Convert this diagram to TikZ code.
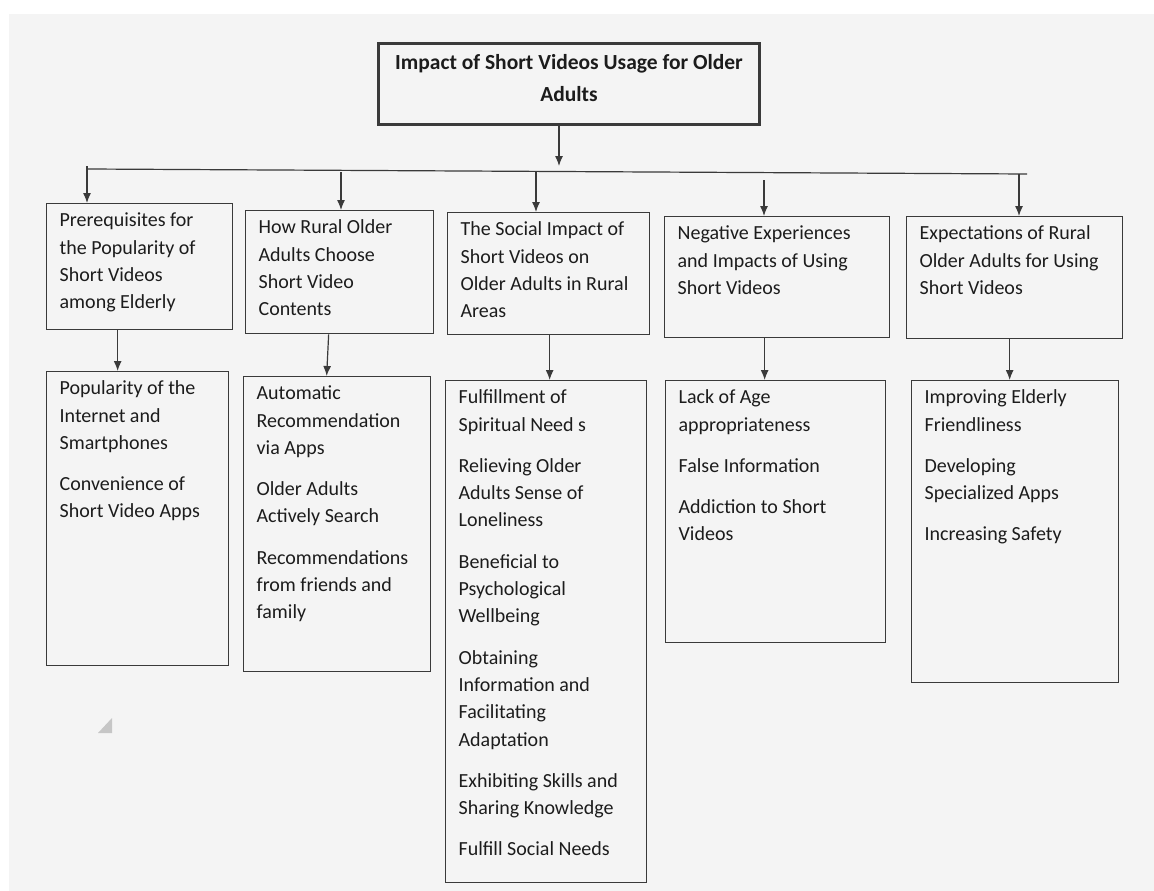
\documentclass[tikz,border=0pt]{standalone}
\usepackage{fontspec}
\setmainfont{Carlito}
\usetikzlibrary{arrows.meta}
\definecolor{bggray}{HTML}{F4F4F4}
\definecolor{linegray}{HTML}{3A3A3A}
\definecolor{textgray}{HTML}{1C1C1C}

\begin{document}
\begin{tikzpicture}[x=1pt, y=-1pt,
  box/.style={draw=linegray, line width=1.3pt, anchor=north west, inner xsep=13pt, inner ysep=4pt,
    text=textgray, font=\fontsize{20}{27.3}\selectfont},
  arr/.style={draw=linegray, line width=1.2pt, -{Latex[length=10pt,width=8pt]}}]
\useasboundingbox (0,0) rectangle (1154,891);
\path [fill=bggray] (9,14) rectangle (1154,891);

% top box
\node [box, line width=3pt, inner xsep=6pt, font=\bfseries\fontsize{21.5}{32}\selectfont] (title) at (377,42)
  {\parbox[t][73pt][t]{369pt}{\centering\strut Impact of Short Videos Usage for Older\\ Adults}};

% second row
\node [box] (b1) at (46,203) {\parbox[t][118pt][t]{160pt}{\strut Prerequisites for\\ the Popularity of\\ Short Videos\\ among Elderly}};
\node [box] (b2) at (245,210) {\parbox[t][115pt][t]{162pt}{\strut How Rural Older\\ Adults Choose\\ Short Video\\ Contents}};
\node [box] (b3) at (447,212) {\parbox[t][114pt][t]{176pt}{\strut The Social Impact of\\ Short Videos on\\ Older Adults in Rural\\ Areas}};
\node [box] (b4) at (664,216) {\parbox[t][113pt][t]{199pt}{\strut Negative Experiences\\ and Impacts of Using\\ Short Videos}};
\node [box] (b5) at (906,216) {\parbox[t][114pt][t]{190pt}{\strut Expectations of Rural\\ Older Adults for Using\\ Short Videos}};

% third row
\node [box] (l1) at (46,371) {\parbox[t][286pt][t]{156pt}{\strut Popularity of the\\ Internet and\\ Smartphones\\[14pt]
  Convenience of\\ Short Video Apps}};
\node [box] (l2) at (243,376) {\parbox[t][287pt][t]{161pt}{\strut Automatic\\ Recommendation\\ via Apps\\[14pt]
  Older Adults\\ Actively Search\\[14pt]
  Recommendations\\ from friends and\\ family}};
\node [box] (l3) at (445,380) {\parbox[t][494pt][t]{175pt}{\strut Fulfillment of\\ Spiritual Need s\\[14pt]
  Relieving Older\\ Adults Sense of\\ Loneliness\\[14pt]
  Beneficial to\\ Psychological\\ Wellbeing\\[14pt]
  Obtaining\\ Information and\\ Facilitating\\ Adaptation\\[14pt]
  Exhibiting Skills and\\ Sharing Knowledge\\[14pt]
  Fulfill Social Needs}};
\node [box] (l4) at (665,380) {\parbox[t][254pt][t]{194pt}{\strut Lack of Age\\ appropriateness\\[14pt]
  False Information\\[14pt]
  Addiction to Short\\ Videos}};
\node [box] (l5) at (911,380) {\parbox[t][294pt][t]{181pt}{\strut Improving Elderly\\ Friendliness\\[14pt]
  Developing\\ Specialized Apps\\[14pt]
  Increasing Safety}};

% branch line
\coordinate (top) at (559,166);
\coordinate (busl) at (88,169);
\coordinate (busr) at (1027,174);
\coordinate (d1) at (87,166);
\coordinate (d2) at (341,172);
\coordinate (d3) at (536,172);
\coordinate (d4) at (764,180);
\coordinate (d5) at (1019,174);
\draw [arr] (title.south -| top) -- (top);
\draw [draw=linegray, line width=1.2pt] (busl) -- (busr);
\draw [arr] (d1) -- (d1 |- b1.north);
\draw [arr] (d2) -- (d2 |- b2.north);
\draw [arr] (d3) -- (d3 |- b3.north);
\draw [arr] (d4) -- (d4 |- b4.north);
\draw [arr] (d5) -- (d5 |- b5.north);

\draw [arr] ([xshift=-22pt]b1.south) -- ([xshift=-20pt]l1.north);
\draw [arr] ([xshift=-11pt]b2.south) -- ([xshift=-10.5pt]l2.north);
\draw [arr] ([xshift=1pt]b3.south) -- ([xshift=3.5pt]l3.north);
\draw [arr] ([xshift=-12.5pt]b4.south) -- ([xshift=-11pt]l4.north);
\draw [arr] ([xshift=-5pt]b5.south) -- ([xshift=-5.5pt]l5.north);

\fill [gray!45] (98,733) -- (112,733) -- (112,718) -- cycle;
\end{tikzpicture}
\end{document}
